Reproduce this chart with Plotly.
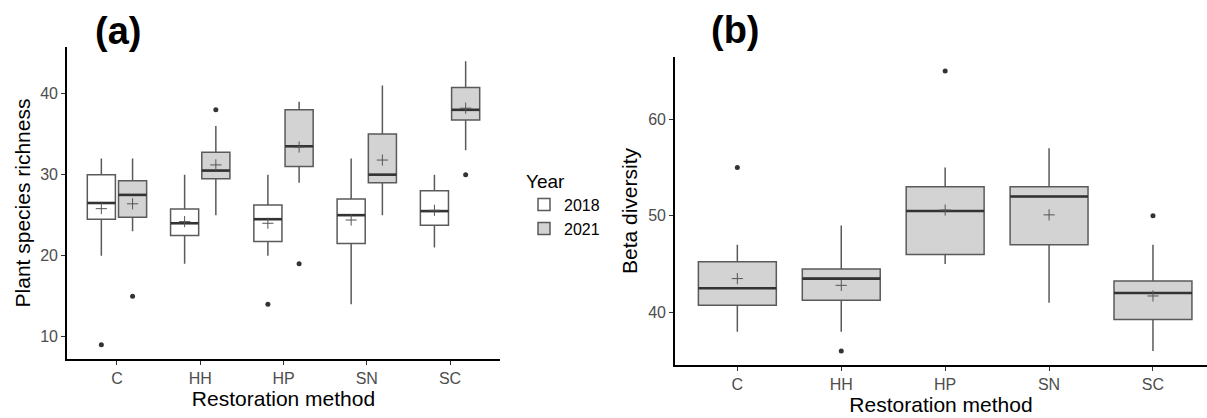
import plotly.graph_objects as go

FONT = "Liberation Sans, Arial, sans-serif"

methods = ["C", "HH", "HP", "SN", "SC"]
years = ["2018", "2021"]

# Panel (a): plant species richness, by method and year
rich_q1 = {"2018": [24.5, 22.5, 21.75, 21.5, 23.75], "2021": [24.75, 29.5, 31.0, 29.0, 36.75]}
rich_med = {"2018": [26.5, 24.0, 24.5, 25.0, 25.5], "2021": [27.5, 30.5, 33.5, 30.0, 38.0]}
rich_q3 = {"2018": [30.0, 25.75, 26.25, 27.0, 28.0], "2021": [29.25, 32.75, 38.0, 35.0, 40.75]}
rich_lo = {"2018": [20, 19, 20, 14, 21], "2021": [23, 25, 29, 25, 33]}
rich_hi = {"2018": [32, 30, 30, 32, 30], "2021": [32, 36, 39, 41, 44]}
rich_mean = {"2018": [25.8, 24.2, 24.0, 24.4, 25.6], "2021": [26.4, 31.2, 33.4, 31.8, 38.2]}
rich_out_x = {"2018": ["C", "HP"], "2021": ["C", "HH", "HP", "SC"]}
rich_out_y = {"2018": [9, 14], "2021": [15, 38, 19, 30]}

# Panel (b): beta diversity by method
beta_q1 = [40.75, 41.25, 46.0, 47.0, 39.25]
beta_med = [42.5, 43.5, 50.5, 52.0, 42.0]
beta_q3 = [45.25, 44.5, 53.0, 53.0, 43.25]
beta_lo = [38, 38, 45, 41, 36]
beta_hi = [47, 49, 55, 57, 47]
beta_mean = [43.5, 42.8, 50.6, 50.1, 41.7]
beta_out_x = ["C", "HH", "HP", "SC"]
beta_out_y = [55, 36, 65, 50]

fills = {"2018": "white", "2021": "#d3d3d3"}
BOXLINE = "#5a5a5a"
DARK = "#333333"

fig = go.Figure()

for yr in years:
    fig.add_trace(go.Box(
        x=methods, q1=rich_q1[yr], median=rich_med[yr], q3=rich_q3[yr],
        lowerfence=rich_lo[yr], upperfence=rich_hi[yr],
        name=yr, fillcolor=fills[yr], line=dict(color=BOXLINE, width=1.5),
        whiskerwidth=0, boxpoints=False, offsetgroup=yr, alignmentgroup="a",
        xaxis="x", yaxis="y", showlegend=True, legendgroup=yr,
    ))
for yr in years:
    fig.add_trace(go.Scatter(
        x=methods, y=rich_med[yr], mode="markers", offsetgroup=yr, alignmentgroup="a",
        marker=dict(symbol="line-ew", size=20, color=DARK, line=dict(color=DARK, width=2.6)),
        xaxis="x", yaxis="y", showlegend=False, hoverinfo="skip",
    ))
    fig.add_trace(go.Scatter(
        x=methods, y=rich_mean[yr], mode="markers", offsetgroup=yr, alignmentgroup="a",
        marker=dict(symbol="cross-thin", size=8, color="#555555", line=dict(color="#555555", width=1)),
        xaxis="x", yaxis="y", showlegend=False,
    ))
    fig.add_trace(go.Scatter(
        x=rich_out_x[yr], y=rich_out_y[yr], mode="markers", offsetgroup=yr, alignmentgroup="a",
        marker=dict(symbol="circle", size=5, color=DARK),
        xaxis="x", yaxis="y", showlegend=False,
    ))

fig.add_trace(go.Box(
    x=methods, q1=beta_q1, median=beta_med, q3=beta_q3,
    lowerfence=beta_lo, upperfence=beta_hi, width=0.75,
    name="beta", fillcolor="#d3d3d3", line=dict(color=BOXLINE, width=1.5),
    whiskerwidth=0, boxpoints=False, offsetgroup="b", alignmentgroup="b",
    xaxis="x2", yaxis="y2", showlegend=False,
))
fig.add_trace(go.Scatter(
    x=methods, y=beta_med, mode="markers", offsetgroup="b", alignmentgroup="b",
    marker=dict(symbol="line-ew", size=55.7, color=DARK, line=dict(color=DARK, width=2.6)),
    xaxis="x2", yaxis="y2", showlegend=False, hoverinfo="skip",
))
fig.add_trace(go.Scatter(
    x=methods, y=beta_mean, mode="markers", offsetgroup="b", alignmentgroup="b",
    marker=dict(symbol="cross-thin", size=8, color="#555555", line=dict(color="#555555", width=1)),
    xaxis="x2", yaxis="y2", showlegend=False,
))
fig.add_trace(go.Scatter(
    x=beta_out_x, y=beta_out_y, mode="markers", offsetgroup="b", alignmentgroup="b",
    marker=dict(symbol="circle", size=5, color=DARK),
    xaxis="x2", yaxis="y2", showlegend=False,
))

W, H = 1207, 418
axis_common = dict(
    showline=True, linecolor="black", linewidth=1.6, ticks="outside", ticklen=4,
    tickcolor="#333333", tickwidth=1.2, showgrid=False, zeroline=False,
    tickfont=dict(family=FONT, size=16, color="#4d4d4d"),
)

fig.update_layout(
    width=W, height=H, margin=dict(l=0, r=0, t=0, b=0),
    paper_bgcolor="white", plot_bgcolor="white",
    boxmode="group", boxgap=0.25, boxgroupgap=0.1,
    scattermode="group", scattergap=0.25,
    font=dict(family=FONT, color="black"),
    xaxis=dict(domain=[67 / W, 500 / W], anchor="y", type="category",
               categoryorder="array", categoryarray=methods, range=[-0.6, 4.6],
               title=dict(text="Restoration method", font=dict(size=21, color="black"), standoff=4),
               **axis_common),
    yaxis=dict(domain=[(H - 359) / H, (H - 47) / H], anchor="x", range=[7.25, 45.75],
               tickvals=[10, 20, 30, 40],
               title=dict(text="Plant species richness", font=dict(size=21, color="black"), standoff=4),
               **axis_common),
    xaxis2=dict(domain=[675 / W, 1.0], anchor="y2", type="category",
                categoryorder="array", categoryarray=methods, range=[-0.6, 4.52],
                title=dict(text="Restoration method", font=dict(size=21, color="black"), standoff=4),
                **axis_common),
    yaxis2=dict(domain=[(H - 365) / H, (H - 57) / H], anchor="x2", range=[34.55, 66.45],
                tickvals=[40, 50, 60],
                title=dict(text="Beta diversity", font=dict(size=21, color="black"), standoff=5),
                **axis_common),
    legend=dict(
        title=dict(text="Year", font=dict(size=19, color="black")),
        font=dict(size=16, color="black"),
        x=524 / W, xanchor="left", y=(H - 163) / H, yanchor="top",
        bgcolor="rgba(0,0,0,0)", tracegroupgap=0, itemwidth=30,
    ),
    annotations=[
        dict(text="<b>(a)</b>", x=117.5 / W, y=(H - 31) / H, xref="paper", yref="paper",
             xanchor="center", yanchor="middle",
             showarrow=False, font=dict(family=FONT, size=38, color="black")),
        dict(text="<b>(b)</b>", x=735 / W, y=(H - 30) / H, xref="paper", yref="paper",
             xanchor="center", yanchor="middle",
             showarrow=False, font=dict(family=FONT, size=38, color="black")),
    ],
)

fig.write_html("out.html")
